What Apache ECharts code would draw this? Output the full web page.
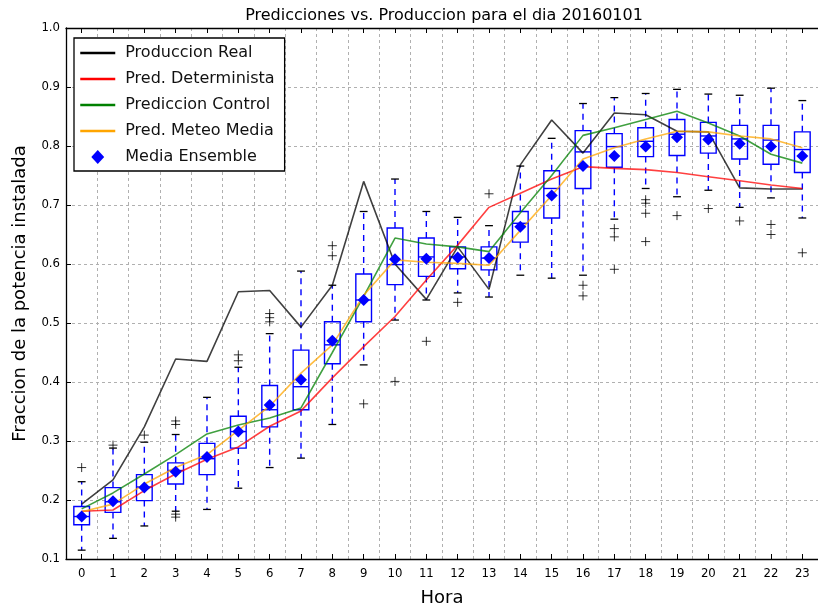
<!DOCTYPE html>
<html>
<head>
<meta charset="utf-8">
<script src="https://cdn.jsdelivr.net/npm/echarts@6/dist/echarts.min.js"></script>
<style>html,body{margin:0;padding:0;background:#fff}#c{width:818px;height:612px}</style>
</head>
<body>
<div id="c"></div>
<script>
// ---- data ----
const hours = ['0','1','2','3','4','5','6','7','8','9','10','11','12','13','14','15','16','17','18','19','20','21','22','23'];
const prodReal = [0.193,0.234,0.324,0.439,0.435,0.553,0.555,0.493,0.564,0.740,0.600,0.540,0.629,0.557,0.768,0.844,0.788,0.856,0.853,0.825,0.824,0.729,0.727,0.727];
const predDet = [0.181,0.183,0.216,0.244,0.269,0.290,0.325,0.351,0.407,0.460,0.511,0.573,0.632,0.696,0.720,0.744,0.765,0.762,0.760,0.755,0.748,0.741,0.734,0.728];
const predControl = [0.185,0.212,0.244,0.277,0.312,0.327,0.339,0.356,0.450,0.545,0.644,0.634,0.629,0.621,0.687,0.750,0.818,0.831,0.845,0.859,0.839,0.817,0.786,0.771];
const predMeteo = [0.180,0.193,0.227,0.255,0.277,0.318,0.359,0.415,0.463,0.547,0.607,0.603,0.601,0.598,0.657,0.716,0.778,0.797,0.812,0.825,0.824,0.817,0.812,0.797];
const mediaEnsemble = [0.172,0.198,0.221,0.248,0.273,0.316,0.361,0.404,0.470,0.539,0.608,0.609,0.611,0.610,0.663,0.716,0.766,0.783,0.799,0.815,0.811,0.804,0.799,0.783];
// box stats per hour: [whisker low, Q1, median, Q3, whisker high]
const boxStats = [
  [0.115,0.158,0.172,0.189,0.231],
  [0.135,0.179,0.197,0.221,0.288],
  [0.156,0.199,0.222,0.243,0.298],
  [0.181,0.227,0.250,0.263,0.311],
  [0.184,0.243,0.270,0.296,0.374],
  [0.220,0.288,0.316,0.342,0.425],
  [0.255,0.324,0.353,0.394,0.482],
  [0.271,0.353,0.392,0.454,0.588],
  [0.328,0.431,0.463,0.502,0.564],
  [0.429,0.502,0.539,0.583,0.689],
  [0.505,0.565,0.599,0.661,0.744],
  [0.539,0.579,0.612,0.644,0.689],
  [0.551,0.592,0.612,0.629,0.679],
  [0.544,0.590,0.610,0.629,0.665],
  [0.581,0.637,0.669,0.689,0.766],
  [0.576,0.678,0.728,0.758,0.813],
  [0.581,0.728,0.790,0.826,0.872],
  [0.676,0.764,0.799,0.821,0.882],
  [0.728,0.782,0.808,0.831,0.889],
  [0.714,0.784,0.820,0.845,0.896],
  [0.725,0.788,0.817,0.840,0.888],
  [0.696,0.778,0.812,0.835,0.886],
  [0.712,0.769,0.810,0.835,0.898],
  [0.678,0.755,0.794,0.824,0.877]
];
// outliers: [hour index, value]
const outliers = [
  [0,0.255],[1,0.293],[2,0.310],[3,0.328],[3,0.334],[3,0.176],[3,0.171],
  [5,0.436],[5,0.446],[6,0.502],[6,0.509],[6,0.516],[8,0.614],[8,0.631],
  [9,0.363],[10,0.401],[11,0.469],[12,0.535],[13,0.719],
  [16,0.564],[16,0.546],[17,0.660],[17,0.646],[17,0.591],
  [18,0.709],[18,0.703],[18,0.686],[18,0.638],[19,0.682],[20,0.694],
  [21,0.673],[22,0.667],[22,0.650],[23,0.619]
];
const yTicks = {min: 0.1, max: 1.0, step: 0.1};
const titleText = 'Predicciones vs. Produccion para el dia 20160101';
const xName = 'Hora';
const yName = 'Fraccion de la potencia instalada';

// ---- chart ----
const FONT = 'DejaVu Sans';
const TICKFONT = '"Liberation Sans Narrow", "DejaVu Sans Condensed", "DejaVu Sans"';
const chart = echarts.init(document.getElementById('c'), null, {renderer: 'canvas'});
const boxData = boxStats.map((s, i) => [i].concat(s));
const gridStyle = {show: true, lineStyle: {color: '#b0b0b0', type: [3, 3], width: 1}};
const noSym = {color: 'rgba(0,0,0,0)', borderWidth: 0, borderColor: 'rgba(0,0,0,0)'};
const legLine = {width: 2.5, opacity: 1};

const option = {
  animation: false,
  backgroundColor: '#ffffff',
  title: {
    text: titleText, left: 444, top: 8, textAlign: 'center', padding: 0,
    textStyle: {fontFamily: FONT, fontSize: 16, fontWeight: 'normal', color: '#000'}
  },
  grid: {left: 66, top: 28, width: 759, height: 534, show: false},
  legend: {
    orient: 'vertical', left: 74, top: 38,
    padding: [7, 10, 6, 5],
    itemWidth: 35, itemHeight: 14, itemGap: 10,
    backgroundColor: '#fff', borderColor: '#000', borderWidth: 1.3, borderRadius: 0,
    textStyle: {fontFamily: FONT, fontSize: 16, color: '#111', padding: [0, 0, 0, 5]},
    data: [
      {name: 'Produccion Real', lineStyle: legLine, itemStyle: noSym},
      {name: 'Pred. Determinista', lineStyle: legLine, itemStyle: noSym},
      {name: 'Prediccion Control', lineStyle: legLine, itemStyle: noSym},
      {name: 'Pred. Meteo Media', lineStyle: legLine, itemStyle: noSym},
      {name: 'Media Ensemble', icon: 'path://M6,0L12,6.5L6,13L0,6.5Z', itemStyle: {color: '#0000ff'}}
    ]
  },
  xAxis: [{
    type: 'category', data: hours, boundaryGap: true,
    name: xName, nameLocation: 'middle', nameGap: 30,
    nameTextStyle: {fontFamily: FONT, fontSize: 18, color: '#000'},
    axisLine: {show: true, lineStyle: {color: '#000', width: 1.3}},
    axisTick: {show: true, inside: true, alignWithLabel: true, length: 5, lineStyle: {color: '#000'}},
    axisLabel: {fontFamily: TICKFONT, fontSize: 13, color: '#000', margin: 8, interval: 0},
    splitLine: Object.assign({interval: 0}, gridStyle)
  }, {
    type: 'category', data: hours, boundaryGap: true, position: 'top',
    axisLine: {show: true, lineStyle: {color: '#000', width: 1.3}},
    axisTick: {show: true, inside: true, alignWithLabel: true, length: 5, lineStyle: {color: '#000'}},
    axisLabel: {show: false}, splitLine: {show: false}
  }],
  yAxis: {
    type: 'value', min: yTicks.min, max: yTicks.max, interval: yTicks.step,
    name: yName, nameLocation: 'middle', nameGap: 37, nameRotate: 90,
    nameTextStyle: {fontFamily: FONT, fontSize: 18, color: '#000'},
    axisLine: {show: true, lineStyle: {color: '#000', width: 1.3}},
    axisTick: {show: true, inside: true, length: 5, lineStyle: {color: '#000'}},
    axisLabel: {fontFamily: TICKFONT, fontSize: 13, color: '#000', margin: 6,
      formatter: v => v.toFixed(1)},
    splitLine: gridStyle
  },
  series: [
    {
      name: 'boxes', type: 'custom', z: 2,
      encode: {x: 0, y: [1, 2, 3, 4, 5]},
      data: boxData,
      renderItem: function (params, api) {
        const x = api.value(0);
        const lo = api.coord([x, api.value(1)]);
        const q1 = api.coord([x, api.value(2)]);
        const md = api.coord([x, api.value(3)]);
        const q3 = api.coord([x, api.value(4)]);
        const hi = api.coord([x, api.value(5)]);
        const bw = api.size([1, 0])[0] * 0.5;
        const hb = bw / 2, hc = bw / 4;
        const cx = q1[0];
        const blue = {stroke: '#0000ff', lineWidth: 1.4, fill: null};
        const dash = {stroke: '#0000ff', lineWidth: 1.4, lineDash: [6, 5]};
        const cap = {stroke: '#000', lineWidth: 1.3};
        return {
          type: 'group',
          children: [
            {type: 'line', shape: {x1: cx, y1: q3[1], x2: cx, y2: hi[1]}, style: dash},
            {type: 'line', shape: {x1: cx, y1: q1[1], x2: cx, y2: lo[1]}, style: dash},
            {type: 'line', shape: {x1: cx - hc, y1: hi[1], x2: cx + hc, y2: hi[1]}, style: cap},
            {type: 'line', shape: {x1: cx - hc, y1: lo[1], x2: cx + hc, y2: lo[1]}, style: cap},
            {type: 'rect', shape: {x: cx - hb, y: q3[1], width: bw, height: q1[1] - q3[1]}, style: blue},
            {type: 'line', shape: {x1: cx - hb, y1: md[1], x2: cx + hb, y2: md[1]}, style: {stroke: '#0000ff', lineWidth: 1.4}}
          ]
        };
      }
    },
    {
      name: 'outliers', type: 'scatter', z: 3,
      symbol: 'path://M5,0L5,10M0,5L10,5', symbolSize: 9,
      itemStyle: {color: 'rgba(0,0,0,0)', borderColor: '#000', borderWidth: 1},
      data: outliers
    },
    {name: 'Produccion Real', type: 'line', data: prodReal, symbol: 'none', z: 4,
     lineStyle: {color: '#000', width: 1.6, opacity: 0.75}, itemStyle: {color: '#000'}},
    {name: 'Pred. Determinista', type: 'line', data: predDet, symbol: 'none', z: 4,
     lineStyle: {color: '#ff0000', width: 1.6, opacity: 0.75}, itemStyle: {color: '#ff0000'}},
    {name: 'Prediccion Control', type: 'line', data: predControl, symbol: 'none', z: 4,
     lineStyle: {color: '#008000', width: 1.6, opacity: 0.75}, itemStyle: {color: '#008000'}},
    {name: 'Pred. Meteo Media', type: 'line', data: predMeteo, symbol: 'none', z: 4,
     lineStyle: {color: '#ffa500', width: 1.6, opacity: 0.75}, itemStyle: {color: '#ffa500'}},
    {name: 'Media Ensemble', type: 'scatter', data: mediaEnsemble, symbol: 'diamond', symbolSize: 12, z: 5,
     itemStyle: {color: '#0000ff', opacity: 1}}
  ]
};
chart.setOption(option);
</script>
</body>
</html>
